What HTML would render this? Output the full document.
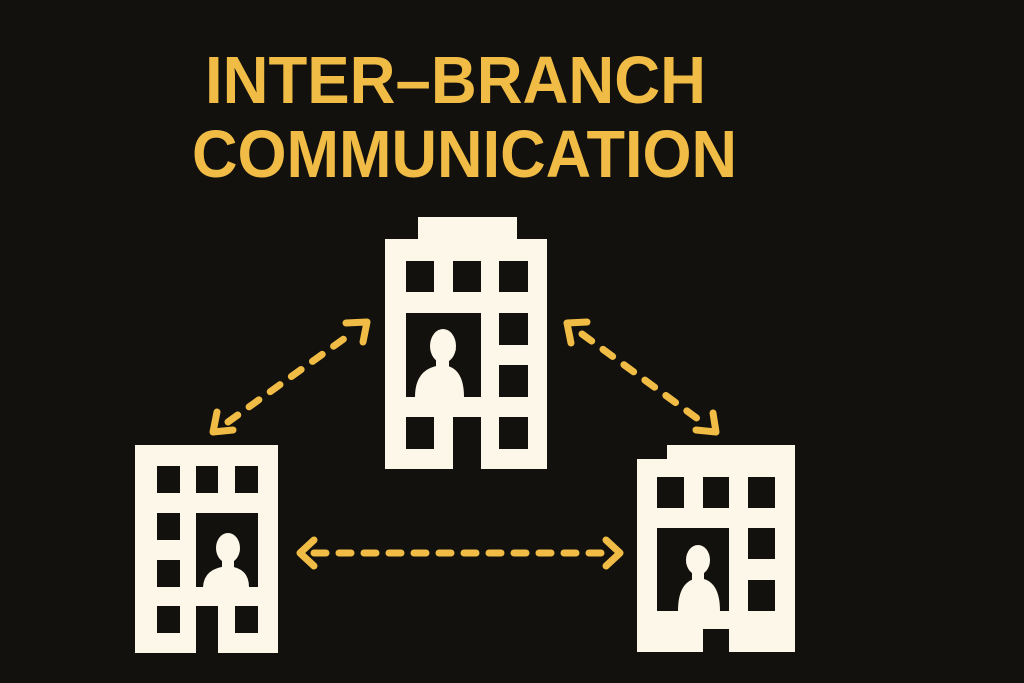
<!DOCTYPE html>
<html><head><style>html,body{margin:0;padding:0;background:#12110d;}svg{display:block}</style></head>
<body>
<svg width="1024" height="683" viewBox="0 0 1024 683" xmlns="http://www.w3.org/2000/svg">
<rect width="1024" height="683" fill="#12110d"/>
<g font-family="Liberation Sans, sans-serif" font-weight="bold" fill="#f0bc45" font-size="67">
<text x="205" y="103" textLength="501" lengthAdjust="spacingAndGlyphs">INTER–BRANCH</text>
<text x="192" y="177" textLength="545" lengthAdjust="spacingAndGlyphs">COMMUNICATION</text>
</g>
<g fill="#fdf7e9">
<!-- top building -->
<path fill-rule="evenodd" d="M418 217H517V239H547V469H481V417H453V469H385V239H418Z
M406 261h28v31h-28z M453 261h28v31h-28z M499 261h29v31h-29z
M406 313h75v84h-75z M499 313h29v32h-29z M499 365h29v32h-29z
M406 417h28v32h-28z M499 417h29v32h-29z"/>
<!-- left building -->
<path fill-rule="evenodd" d="M135 445H278V653H218V606H196V653H135Z
M157 466h23v27h-23z M196 466h22v27h-22z M235 466h23v27h-23z
M157 513h23v27h-23z M157 560h23v27h-23z M196 513h62v74h-62z
M157 606h23v27h-23z M235 606h23v27h-23z"/>
<!-- right building -->
<path fill-rule="evenodd" d="M667 445H795V652H729V629H703V652H637V459H667Z
M657 477h27v31h-27z M703 477h26v31h-26z M748 477h27v31h-27z
M657 528h72v83h-72z M748 528h27v31h-27z M748 580h27v31h-27z"/>
</g>
<!-- persons -->
<g fill="#fdf7e9">
<ellipse cx="443" cy="346" rx="13" ry="17"/><path d="M452 344l4 6-3 2z"/>
<rect x="436" y="355" width="13" height="14"/>
<path d="M415 397Q415 367 443 365Q464 367 464 397Z"/>
<ellipse cx="228" cy="548" rx="12" ry="15"/><path d="M236 546l4 5-3 2z"/>
<rect x="222" y="556" width="12" height="12"/>
<path d="M203 587Q204 568 228 566Q249 568 249 587Z"/>
<ellipse cx="698" cy="560" rx="12" ry="15"/><path d="M690 558l-4 5 3 2z"/>
<rect x="692" y="568" width="12" height="12"/>
<path d="M678 611Q678 580 699 578Q720 580 720 611Z"/>
</g>
<!-- arrows -->
<g stroke="#f0bc45" stroke-width="7" stroke-linecap="round" stroke-linejoin="round" fill="none">
<path d="M228 422L352 333" stroke-dasharray="12 14"/>
<path d="M213 432l4-20M213 432l20 -2"/>
<path d="M367 322l-21 1M367 322l-4 20"/>
<path d="M582 334L702 422" stroke-dasharray="12 14"/>
<path d="M567 323l4 20M567 323l20 -1"/>
<path d="M716 432l-20 -2M716 432l-3-19"/>
<path d="M314 553H606" stroke-dasharray="12 13"/>
<path d="M300 553l14-13M300 553l14 13"/>
<path d="M620 553l-14-13M620 553l-14 13"/>
</g>
</svg>
</body></html>
